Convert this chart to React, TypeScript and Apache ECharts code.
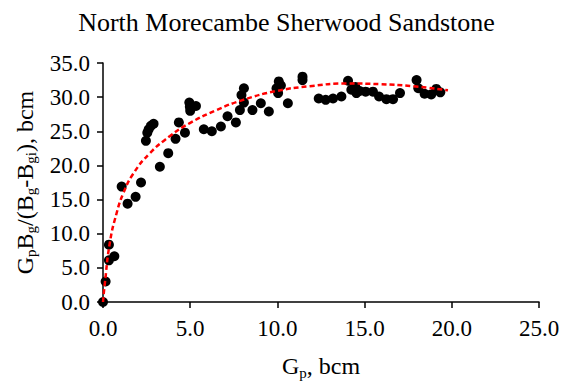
import React, { useEffect, useRef } from "react";
import * as echarts from "echarts";

const titleText = "North Morecambe Sherwood Sandstone";
const xTickLabels = ["0.0", "5.0", "10.0", "15.0", "20.0", "25.0"];
const yTickLabels = ["0.0", "5.0", "10.0", "15.0", "20.0", "25.0", "30.0", "35.0"];

const gpValues = [
  0, 0.15, 0.34, 0.34, 0.65, 1.07, 1.41, 1.87, 2.18, 2.46, 2.54, 2.62, 2.75, 2.9,
  3.26, 3.74, 4.16, 4.35, 4.7, 4.95, 4.98, 5.0, 5.33, 5.78, 6.24, 6.76, 7.14, 7.62,
  7.85, 7.94, 8.08, 8.08, 8.57, 9.05, 9.51, 9.95, 10.08, 10.04, 10.2, 10.6, 11.44,
  11.44, 12.37, 12.77, 13.19, 13.67, 14.05, 14.24, 14.47, 14.53, 14.72, 15.06,
  15.48, 15.83, 16.25, 16.63, 17.03, 17.98, 18.08, 18.44, 18.82, 19.11, 19.34,
];
const ratioValues = [
  0, 3.0, 6.1, 8.4, 6.7, 16.9, 14.4, 15.4, 17.5, 23.6, 24.8, 25.3, 25.8, 26.1,
  19.8, 21.8, 23.9, 26.3, 24.8, 29.2, 28.6, 28.0, 28.7, 25.3, 25.0, 25.7, 27.2, 26.3,
  28.1, 30.3, 31.3, 29.2, 28.1, 29.1, 27.9, 31.3, 32.3, 30.6, 31.7, 29.1, 33.0,
  32.5, 29.8, 29.6, 29.8, 30.1, 32.4, 31.1, 31.5, 30.6, 30.9, 30.8,
  30.8, 30.1, 29.7, 29.7, 30.6, 32.5, 31.3, 30.5, 30.4, 31.2, 30.7,
];

const trendX = [0, 0.1, 0.4, 0.78, 1.16, 1.74, 2.69, 3.84, 4.98, 6.5, 8.04, 9.95, 11.86, 13.96, 15.86, 17.77, 19.78];
const trendY = [0, 2.6, 8.8, 13.0, 15.9, 18.8, 21.8, 24.3, 26.2, 28.1, 29.6, 30.9, 31.6, 32.0, 31.9, 31.6, 31.0];

const FONT = "Liberation Serif";

const nameRich = {
  n: { fontFamily: FONT, fontSize: 24, color: "#000" },
  s: { fontFamily: FONT, fontSize: 15, color: "#000", padding: [13, 0, 0, 0] },
};
const tickRich = {
  t: { fontFamily: FONT, fontSize: 23, color: "#000" },
};

export default function App() {
  const ref = useRef<HTMLDivElement>(null);
  useEffect(() => {
    document.body.style.margin = "0";
    const chart = echarts.init(ref.current!, null, { renderer: "svg" });
    const scatterData = gpValues.map((x, i) => [x, ratioValues[i]]);
    const trendData = trendX.map((x, i) => [x, trendY[i]]);
    chart.setOption({
      animation: false,
      backgroundColor: "#ffffff",
      textStyle: { fontFamily: FONT },
      title: {
        text: titleText,
        left: "center",
        top: 4,
        textStyle: { fontFamily: FONT, fontSize: 26, fontWeight: "normal", color: "#000" },
      },
      grid: { left: 103, right: 34, top: 63, bottom: 88 },
      xAxis: {
        type: "value",
        min: 0,
        max: 25,
        interval: 5,
        name: "{n|G}{s|p}{n|, bcm}",
        nameLocation: "middle",
        nameGap: 50,
        nameTextStyle: { fontFamily: FONT, fontSize: 24, color: "#000", rich: nameRich },
        splitLine: { show: false },
        axisLine: { lineStyle: { color: "#000", width: 1.5 } },
        axisTick: { show: true, inside: false, length: 6, lineStyle: { color: "#000", width: 1.5 } },
        axisLabel: {
          fontFamily: FONT,
          fontSize: 23,
          color: "#000",
          margin: 15,
          rich: tickRich,
          formatter: (v: number) => "{t|" + (xTickLabels[Math.round(v / 5)] ?? "") + "}",
        },
      },
      yAxis: {
        type: "value",
        min: 0,
        max: 35,
        interval: 5,
        name: "{n|G}{s|p}{n|B}{s|g}{n|/(B}{s|g}{n|-B}{s|gi}{n|), bcm}",
        nameLocation: "middle",
        nameRotate: 90,
        nameGap: 63,
        nameTextStyle: { fontFamily: FONT, fontSize: 24, color: "#000", rich: nameRich },
        splitLine: { show: false },
        axisLine: { show: true, lineStyle: { color: "#000", width: 1.5 } },
        axisTick: { show: true, inside: false, length: 6, lineStyle: { color: "#000", width: 1.5 } },
        axisLabel: {
          fontFamily: FONT,
          fontSize: 23,
          color: "#000",
          margin: 13,
          rich: tickRich,
          formatter: (v: number) => "{t|" + (yTickLabels[Math.round(v / 5)] ?? "") + "}",
        },
      },
      series: [
        {
          type: "scatter",
          data: scatterData,
          symbol: "circle",
          symbolSize: 10,
          itemStyle: { color: "#000", opacity: 1 },
          z: 2,
        },
        {
          type: "line",
          data: trendData,
          smooth: true,
          showSymbol: false,
          symbol: "none",
          lineStyle: { color: "#ff0000", width: 2.5, type: [5, 3] },
          z: 3,
        },
      ],
    });
    return () => chart.dispose();
  }, []);
  return (
    <div
      ref={ref}
      style={{ position: "absolute", left: 0, top: 0, width: 573, height: 390 }}
    />
  );
}
